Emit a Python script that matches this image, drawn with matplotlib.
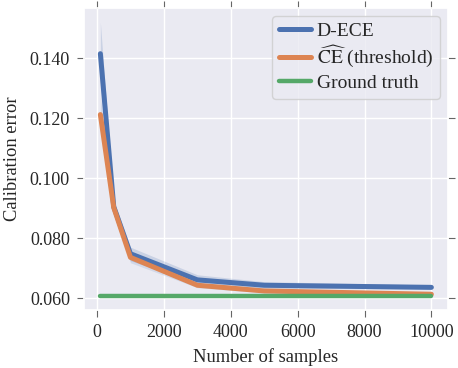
import matplotlib
matplotlib.use("Agg")
import matplotlib.pyplot as plt
import seaborn as sns

# ============================================================ DATA ============================================================
n_samples = [100, 500, 1000, 3000, 5000, 10000]
dece_mean = [0.1415, 0.0905, 0.0748, 0.0661, 0.0643, 0.0636]
dece_low = [0.1320, 0.0880, 0.0725, 0.0648, 0.0633, 0.0630]
dece_high = [0.1520, 0.0925, 0.0770, 0.0678, 0.0655, 0.0644]
ce_mean = [0.1212, 0.0902, 0.0736, 0.0643, 0.0624, 0.0613]
ce_low = [0.1160, 0.0885, 0.0718, 0.0635, 0.0618, 0.0610]
ce_high = [0.1270, 0.0920, 0.0752, 0.0652, 0.0630, 0.0617]
ground_truth = [0.0606, 0.0606, 0.0606, 0.0606, 0.0606, 0.0606]

x_ticks = [0, 2000, 4000, 6000, 8000, 10000]
y_ticks = [0.060, 0.080, 0.100, 0.120, 0.140]

# ============================================================ STYLE ============================================================
sns.set_theme(style="darkgrid")
plt.rcParams['font.family'] = 'serif'
plt.rcParams['font.serif'] = ['Liberation Serif', 'DejaVu Serif']
plt.rcParams['mathtext.fontset'] = 'stix'
plt.rcParams['xtick.bottom'] = True
plt.rcParams['xtick.top'] = True
plt.rcParams['ytick.left'] = True
plt.rcParams['ytick.right'] = True

blue, orange, green = sns.color_palette()[:3]

# ============================================================ BUILDING PLOT ============================================================
fig, ax = plt.subplots(figsize=(4.58, 3.68), dpi=100)

ax.fill_between(n_samples, dece_low, dece_high, color=blue, alpha=0.2, linewidth=0)
ax.fill_between(n_samples, ce_low, ce_high, color=blue, alpha=0.15, linewidth=0)
ax.plot(n_samples, dece_mean, color=blue, linewidth=3.6, label="D-ECE")
ax.plot(n_samples, ce_mean, color=orange, linewidth=3.6, label=r"$\widehat{\mathrm{CE}}$ (threshold)")
ax.plot(n_samples, ground_truth, color=green, linewidth=3.2, label="Ground truth")

ax.set_ylim(0.0561, 0.1567)
ax.set_xticks(x_ticks)
ax.set_yticks(y_ticks)
ax.set_yticklabels([f"{v:.3f}" for v in y_ticks])
ax.tick_params(axis='both', which='both', labelsize=13, length=5, width=0.8, color='#666666',
               direction='out', pad=5)

ax.set_xlabel("Number of samples", fontsize=13.3, labelpad=5)
ax.set_ylabel("Calibration error", fontsize=13.3, labelpad=6)

leg = ax.legend(loc='upper right', fontsize=14, handlelength=1.65, handletextpad=0.3,
                borderpad=0.35, labelspacing=0.2, borderaxespad=0.4)

fig.subplots_adjust(left=0.183, right=0.978, top=0.978, bottom=0.158)
fig.savefig("out.png", dpi=100)
